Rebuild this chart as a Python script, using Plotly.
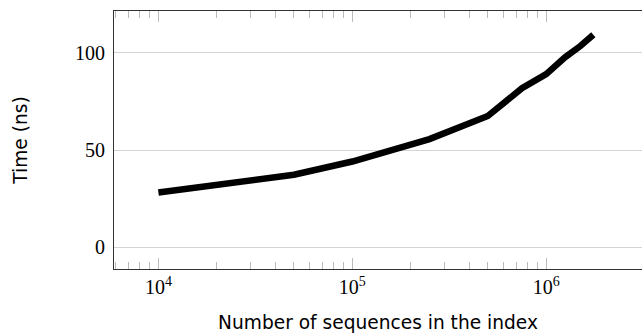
import plotly.graph_objects as go

# Data
sequences = [1e4, 5e4, 1e5, 2.5e5, 5e5, 7.5e5, 1e6, 1.25e6, 1.5e6, 1.75e6]
time_ns = [28.2, 37.3, 44.1, 55.6, 67.5, 81.7, 89.0, 97.6, 103.4, 109.2]

x_tick_vals = [1e4, 1e5, 1e6]
x_tick_text = ["10<sup>4</sup>", "10<sup>5</sup>", "10<sup>6</sup>"]
y_tick_vals = [0, 50, 100]

x_title = "Number of sequences in the index"
y_title = "Time (ns)"

# minor ticks only between major decades (as in the reference, none past 10^6)
minor_vals = [k * 10 ** d for d in (3, 4, 5) for k in range(2, 10)]

X_RANGE = [3.771, 6.494]

fig = go.Figure()
fig.add_trace(go.Scatter(
    x=sequences, y=time_ns, mode="lines",
    line=dict(color="black", width=6.5),
    showlegend=False, hoverinfo="skip",
))
# invisible helper trace so the minor-tick axis is drawn
fig.add_trace(go.Scatter(
    x=[sequences[0]], y=[time_ns[0]], xaxis="x2", mode="markers",
    marker=dict(opacity=0), showlegend=False, hoverinfo="skip",
))

tick_font = dict(family="Liberation Serif", size=20, color="black")
title_font = dict(family="DejaVu Sans", size=18.6, color="black")

fig.update_layout(
    width=642, height=336,
    margin=dict(l=114, r=0, t=11, b=67, autoexpand=False),
    plot_bgcolor="white", paper_bgcolor="white",
    xaxis=dict(
        type="log", range=X_RANGE,
        tickmode="array", tickvals=x_tick_vals, ticktext=x_tick_text,
        ticks="inside", ticklen=11, tickwidth=1, tickcolor="#bbbbbb",
        showline=True, linecolor="#333333", linewidth=1, mirror="ticks",
        showgrid=False, zeroline=False,
        tickfont=tick_font,
        title=dict(text=x_title, font=title_font, standoff=18),
    ),
    xaxis2=dict(
        type="log", range=X_RANGE, overlaying="x", side="bottom",
        tickmode="array", tickvals=minor_vals, showticklabels=False,
        ticks="inside", ticklen=7, tickwidth=1, tickcolor="#bbbbbb",
        showline=True, linecolor="#333333", linewidth=1, mirror="ticks",
        showgrid=False, zeroline=False,
    ),
    yaxis=dict(
        range=[-11.1, 121.4], tickmode="array", tickvals=y_tick_vals,
        ticks="", showline=True, linecolor="#333333", linewidth=1,
        showgrid=True, gridcolor="#d4d4d4", gridwidth=1, zeroline=False,
        tickfont=tick_font, ticklabelstandoff=4,
        title=dict(text=y_title, font=title_font, standoff=42),
    ),
)

fig.write_html("out.html", config={"displayModeBar": False})
